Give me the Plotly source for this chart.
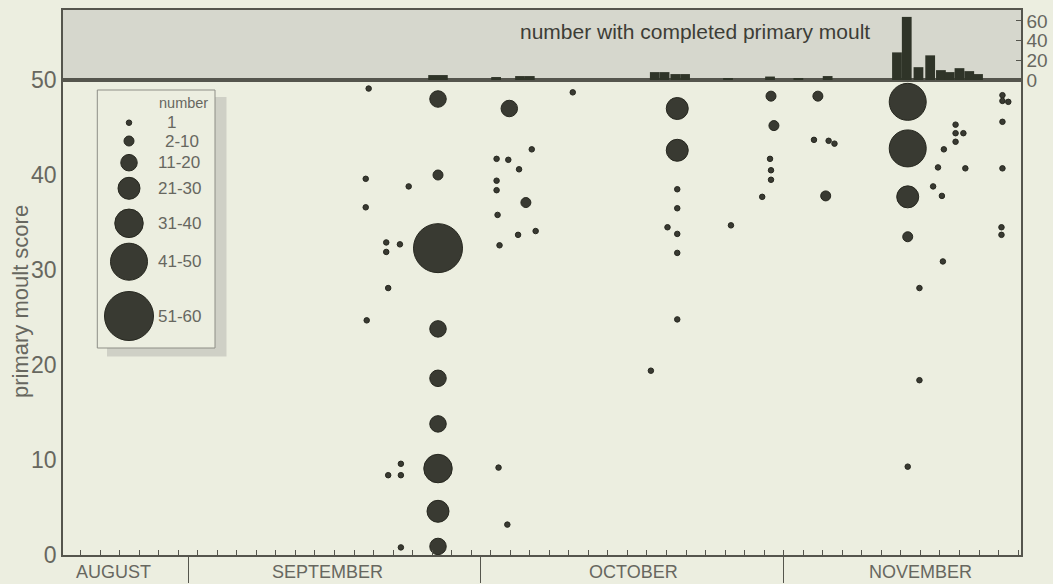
import plotly.graph_objects as go

# ---------------- data ----------------
# x = days counted from the August/September boundary (0); Sep 30 ends at 30, Oct 31 ends at 61
pt_day = [18.5, 18.2, 18.2, 22.6, 20.3, 20.3, 21.7, 20.5, 18.3, 21.8, 20.5, 21.8, 21.8,
          25.6, 25.6, 25.6, 25.6, 25.6, 25.6, 25.6, 25.6, 25.6,
          31.6, 32.8, 33.9, 35.2, 31.6, 31.6, 34.6, 31.7, 33.8, 35.6, 31.9, 32.9, 31.8, 32.7, 39.4,
          50.1, 50.1, 50.1, 50.1, 50.1, 50.1, 50.1, 49.1, 47.4, 55.6,
          59.7, 60.0, 59.6, 59.7, 59.7, 58.8,
          64.5, 64.1, 65.6, 66.2, 65.3,
          73.7, 73.7, 73.7, 73.7, 73.7, 74.9, 74.9, 77.3, 78.6, 78.6, 79.4, 78.6, 77.4, 76.8,
          79.6, 76.3, 77.2, 83.4, 83.4, 84.0, 83.4, 83.4, 83.3, 83.3]
pt_score = [49.1, 39.6, 36.6, 38.8, 32.9, 31.9, 32.7, 28.1, 24.7, 9.6, 8.4, 8.4, 0.8,
            48.0, 40.0, 32.3, 23.8, 18.6, 13.8, 9.1, 4.6, 0.9,
            41.7, 41.6, 40.6, 42.7, 39.4, 38.4, 37.1, 35.8, 33.7, 34.1, 32.6, 47.0, 9.2, 3.2, 48.7,
            47.0, 42.6, 38.5, 36.5, 33.8, 31.8, 24.8, 34.5, 19.4, 34.7,
            48.3, 45.2, 41.7, 40.5, 39.5, 37.7,
            48.3, 43.7, 43.6, 43.3, 37.8,
            47.7, 42.8, 37.7, 33.5, 9.3, 28.1, 18.4, 30.9, 45.3, 44.4, 44.4, 43.5, 42.7, 40.8,
            40.7, 38.8, 37.8, 48.4, 47.8, 47.7, 45.6, 40.7, 34.5, 33.7]
pt_number = [1, 1, 1, 1, 1, 1, 1, 1, 1, 1, 1, 1, 1,
             15, 5, 55, 15, 15, 15, 35, 25, 15,
             1, 1, 1, 1, 1, 1, 5, 1, 1, 1, 1, 15, 1, 1, 1,
             25, 25, 1, 1, 1, 1, 1, 1, 1, 1,
             5, 5, 1, 1, 1, 1,
             5, 1, 1, 1, 5,
             45, 45, 25, 5, 1, 1, 1, 1, 1, 1, 1, 1, 1, 1,
             1, 1, 1, 1, 1, 1, 1, 1, 1, 1]

hist_day = [25.1, 26.1, 31.55, 34.0, 35.0, 47.8, 48.8, 49.9, 50.9, 55.3, 59.6, 62.5, 65.5,
            72.6, 73.6, 74.8, 76.0, 77.1, 78.0, 79.0, 80.0, 80.9]
hist_count = [5, 5, 3, 4, 4, 8, 8, 6, 6, 2, 3.5, 2, 4,
              28, 64, 13, 25, 10, 8, 12, 9, 6]

class_upper = [1, 10, 20, 30, 40, 50, 60]
class_labels = ["1", "2-10", "11-20", "21-30", "31-40", "41-50", "51-60"]

month_names = ["AUGUST", "SEPTEMBER", "OCTOBER", "NOVEMBER"]
month_bounds = [0, 30, 61]
month_label_day = [-7.6, 14.3, 45.6, 75.0]

score_ticks = [0, 10, 20, 30, 40, 50]
count_ticks = [0, 20, 40, 60]

# ---------------- style ----------------
W, H = 1053, 584
ML, MR, MT, MB = 63, 32, 10, 29
PW, PH = W - ML - MR, H - MT - MB
SPLIT = 475 / PH
BG = "#eceee0"
TOPBG = "#d6d7cd"
AX = "#55554d"
TXT = "#67675f"
DOT = "#393a32"
FONT = "Liberation Sans, Arial, sans-serif"
class_px = [5.5, 10, 16.5, 22, 28.5, 37, 49]
X_RANGE = [-12.8, 85.3]


def cls(n):
    for i, u in enumerate(class_upper):
        if n <= u:
            return i
    return len(class_upper) - 1


fig = go.Figure()

fig.add_trace(go.Bar(
    x=hist_day, y=hist_count, width=1.0, xaxis="x2", yaxis="y2",
    marker=dict(color="#2f3428", line=dict(width=0)), showlegend=False,
    hoverinfo="skip"))

fig.add_trace(go.Scatter(
    x=pt_day, y=pt_score, mode="markers", xaxis="x", yaxis="y",
    marker=dict(size=[class_px[cls(n)] for n in pt_number], color=DOT, opacity=1,
                line=dict(color="#26271f", width=1)),
    cliponaxis=False, showlegend=False))

# legend key (drawn in a pixel-unit overlay axis)
leg_y = [122.7, 141, 162.7, 188.3, 223.3, 261.7, 316]
leg_lx = [165, 163, 156, 156, 156, 156, 156]
fig.add_trace(go.Scatter(
    x=[129] * len(class_labels), y=leg_y, mode="markers", xaxis="x3", yaxis="y3",
    marker=dict(size=class_px, color=DOT, opacity=1, line=dict(color="#26271f", width=1)),
    cliponaxis=False, showlegend=False, hoverinfo="skip"))

shapes = [
    dict(type="rect", xref="x2 domain", yref="y2 domain", x0=0, x1=1, y0=0, y1=1,
         fillcolor=TOPBG, line=dict(width=0), layer="below"),
    dict(type="rect", xref="x3", yref="y3", x0=107, x1=226.5, y0=97, y1=356.5,
         fillcolor="#cfd0c6", line=dict(width=0), layer="below"),
    dict(type="rect", xref="x3", yref="y3", x0=97.3, x1=215, y0=90, y1=348,
         fillcolor=BG, line=dict(color="#8e8e86", width=1), layer="below"),
]

ann = []
for name, xd in zip(month_names, month_label_day):
    ann.append(dict(x=xd, y=-(572 - 555) / PH, xref="x", yref="paper", text=name,
                    showarrow=False, font=dict(size=18, color=TXT, family=FONT),
                    xanchor="center", yanchor="middle"))
ann.append(dict(x=(20 - ML) / PW, y=(H - MB - 302) / PH, xref="paper", yref="paper",
                text="primary moult score",
                textangle=-90, showarrow=False, font=dict(size=22, color=TXT, family=FONT),
                xanchor="center", yanchor="middle"))
ann.append(dict(x=694.5, y=31, xref="x3", yref="y3", text="number with completed primary moult",
                showarrow=False, font=dict(size=21, color="#3d3d36", family=FONT),
                xanchor="center", yanchor="middle"))
ann.append(dict(x=210, y=102.5, xref="x3", yref="y3", text="number", showarrow=False,
                font=dict(size=14.5, color=TXT, family=FONT), xanchor="right", yanchor="middle"))
for lab, lx, ly in zip(class_labels, leg_lx, leg_y):
    ann.append(dict(x=lx, y=ly, xref="x3", yref="y3", text=lab, showarrow=False,
                    font=dict(size=17, color=TXT, family=FONT), xanchor="left", yanchor="middle"))

fig.update_layout(
    width=W, height=H, margin=dict(l=ML, r=MR, t=MT, b=MB, autoexpand=False),
    paper_bgcolor=BG, plot_bgcolor="rgba(0,0,0,0)",
    font=dict(family=FONT, color=TXT), showlegend=False,
    shapes=shapes, annotations=ann,
    xaxis=dict(domain=[0, 1], anchor="y", range=X_RANGE, showline=True, mirror=True,
               linecolor=AX, linewidth=1.5, showgrid=False, zeroline=False, automargin=False,
               tickmode="array", tickvals=month_bounds, ticktext=["", "", ""],
               ticks="outside", ticklen=26, tickwidth=1.2, tickcolor=AX,
               minor=dict(tickmode="linear", tick0=1, dtick=2, ticks="inside",
                          ticklen=5, tickwidth=1, tickcolor=AX, showgrid=False)),
    yaxis=dict(domain=[0, SPLIT], anchor="x", range=[0, 50], showline=True, mirror=True,
               linecolor=AX, linewidth=1.5, showgrid=False, zeroline=False, automargin=False,
               tickmode="array", tickvals=score_ticks, ticks="",
               tickfont=dict(size=23, color=TXT, family=FONT)),
    xaxis2=dict(domain=[0, 1], anchor="y2", matches="x", range=X_RANGE, showline=True,
                mirror=True, linecolor=AX, linewidth=1.5, showgrid=False, zeroline=False,
                automargin=False, showticklabels=False, ticks=""),
    yaxis2=dict(domain=[SPLIT, 1], anchor="x2", range=[0, 71], side="right", showline=True,
                mirror=True, linecolor=AX, linewidth=1.5, showgrid=False, zeroline=False,
                automargin=False, tickmode="array", tickvals=count_ticks, ticks="inside",
                ticklen=5, tickcolor=AX, tickfont=dict(size=19, color=TXT, family=FONT)),
    xaxis3=dict(domain=[0, 1], anchor="y3", range=[ML, W - MR], visible=False,
                fixedrange=True, automargin=False),
    yaxis3=dict(domain=[0, 1], anchor="x3", range=[H - MB, MT], visible=False,
                fixedrange=True, automargin=False),
)

fig.write_html("out.html")
